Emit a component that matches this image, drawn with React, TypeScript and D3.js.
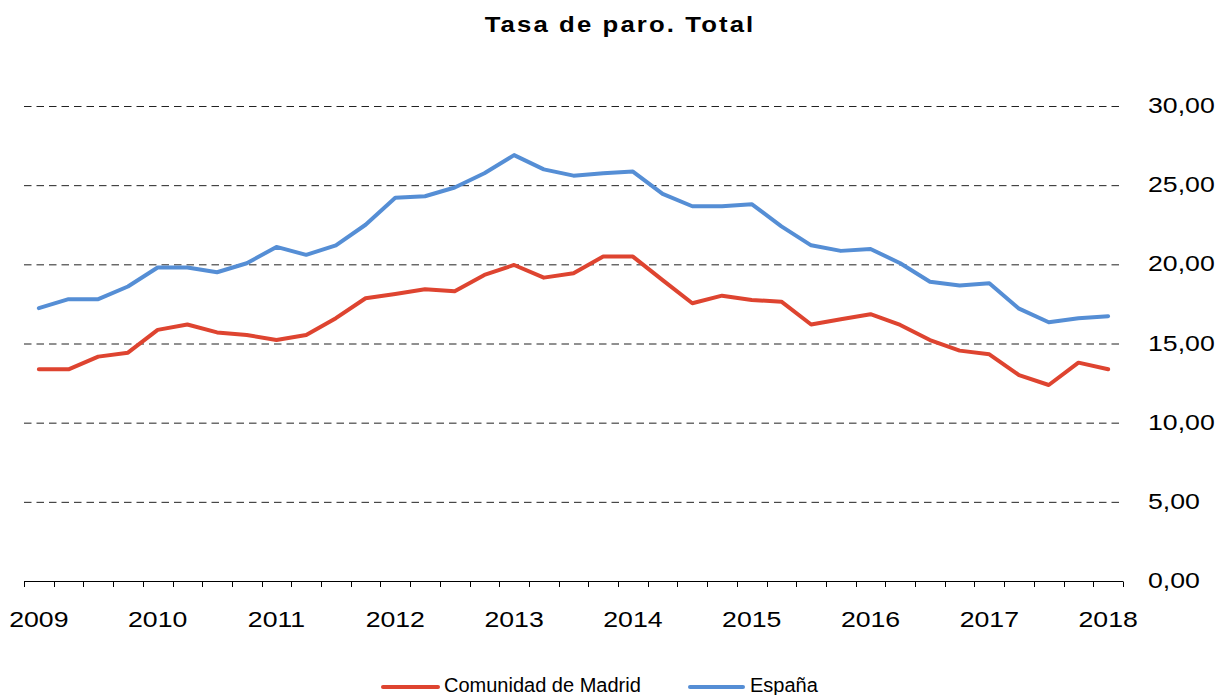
import React, { useEffect, useRef } from 'react'
import * as d3 from 'd3'

const quarters = [
  '2009T1', '2009T2', '2009T3', '2009T4',
  '2010T1', '2010T2', '2010T3', '2010T4',
  '2011T1', '2011T2', '2011T3', '2011T4',
  '2012T1', '2012T2', '2012T3', '2012T4',
  '2013T1', '2013T2', '2013T3', '2013T4',
  '2014T1', '2014T2', '2014T3', '2014T4',
  '2015T1', '2015T2', '2015T3', '2015T4',
  '2016T1', '2016T2', '2016T3', '2016T4',
  '2017T1', '2017T2', '2017T3', '2017T4',
  '2018T1'
]

const madrid = [
  13.37, 13.37, 14.17, 14.42,
  15.86, 16.2, 15.7, 15.54,
  15.22, 15.54, 16.6, 17.86,
  18.13, 18.43, 18.3, 19.33,
  19.96, 19.16, 19.44, 20.49,
  20.49, 19.0, 17.54, 18.02,
  17.75, 17.64, 16.2, 16.53,
  16.85, 16.17, 15.22, 14.55,
  14.32, 13.0, 12.38, 13.79,
  13.37
]

const espana = [
  17.23, 17.8, 17.8, 18.6,
  19.8, 19.8, 19.5, 20.07,
  21.1, 20.6, 21.2, 22.5,
  24.2, 24.3, 24.85, 25.75,
  26.9, 26.0, 25.6, 25.75,
  25.86, 24.45, 23.67, 23.67,
  23.8, 22.4, 21.2, 20.85,
  20.97, 20.07, 18.9, 18.66,
  18.8, 17.2, 16.34, 16.6,
  16.72
]

const yTicks = [0, 5, 10, 15, 20, 25, 30]
const yearLabels = ['2009', '2010', '2011', '2012', '2013', '2014', '2015', '2016', '2017', '2018']

const series = [
  { name: 'Comunidad de Madrid', values: madrid, colour: '#DE4430' },
  { name: 'España', values: espana, colour: '#558ED5' }
]

const W = 1225
const H = 695
const SX = 1.17 // the exported picture is stretched a bit horizontally

export default function App () {
  const ref = useRef<SVGSVGElement>(null)

  useEffect(() => {
    const svg = d3.select(ref.current)
    svg.selectAll('*').remove()

    const x = d3.scaleBand<string>().domain(quarters).range([24, 1123]).padding(0)
    const y = d3.scaleLinear().domain([0, 30]).range([581, 106])
    const cx = (q: string) => (x(q) as number) + x.bandwidth() / 2

    // title
    svg.append('text')
      .attr('transform', `translate(620, 32) scale(${SX},1)`)
      .attr('text-anchor', 'middle')
      .attr('font-family', 'Liberation Sans, Arial, sans-serif')
      .attr('font-weight', 'bold')
      .attr('font-size', 22)
      .attr('letter-spacing', 1.8)
      .attr('fill', '#000')
      .text('Tasa de paro. Total')

    // dashed gridlines + right labels
    const grid = svg.append('g')
    grid.selectAll('line')
      .data(yTicks.filter(t => t > 0))
      .enter().append('line')
        .attr('x1', 24)
        .attr('x2', 1123)
        .attr('y1', d => y(d) + 0.5)
        .attr('y2', d => y(d) + 0.5)
        .attr('stroke', '#222')
        .attr('stroke-width', 1)
        .attr('stroke-dasharray', '7.5,5')

    grid.selectAll('text')
      .data(yTicks)
      .enter().append('text')
        .attr('transform', d => `translate(1148, ${y(d) + 7}) scale(${SX},1)`)
        .attr('font-family', 'Liberation Sans, Arial, sans-serif')
        .attr('font-size', 22.8)
        .attr('fill', '#000')
        .text(d => d3.format('.2f')(d).replace('.', ','))

    // x axis
    const axis = svg.append('g')
    axis.append('line')
      .attr('x1', 24).attr('x2', 1123)
      .attr('y1', 581.5).attr('y2', 581.5)
      .attr('stroke', '#000')
    const bounds = quarters.map(q => x(q) as number).concat([1123])
    axis.selectAll('line.tick')
      .data(bounds)
      .enter().append('line')
        .attr('class', 'tick')
        .attr('x1', d => Math.round(d) + 0.5)
        .attr('x2', d => Math.round(d) + 0.5)
        .attr('y1', 581.5)
        .attr('y2', 587)
        .attr('stroke', '#000')
    axis.selectAll('text')
      .data(yearLabels)
      .enter().append('text')
        .attr('transform', d => `translate(${cx(d + 'T1')}, 627) scale(${SX},1)`)
        .attr('text-anchor', 'middle')
        .attr('font-family', 'Liberation Sans, Arial, sans-serif')
        .attr('font-size', 22.8)
        .attr('fill', '#000')
        .text(d => d)

    // lines
    const line = d3.line<number>()
      .x((d, i) => cx(quarters[i]))
      .y(d => y(d))
    svg.append('g').selectAll('path')
      .data(series)
      .enter().append('path')
        .attr('d', d => line(d.values))
        .attr('fill', 'none')
        .attr('stroke', d => d.colour)
        .attr('stroke-width', 4)
        .attr('stroke-linejoin', 'round')
        .attr('stroke-linecap', 'round')

    // legend
    const legendPos = [{ x1: 383, x2: 438, tx: 444 }, { x1: 690, x2: 743, tx: 750 }]
    const legend = svg.append('g')
    series.forEach((s, i) => {
      const p = legendPos[i]
      legend.append('line')
        .attr('x1', p.x1).attr('x2', p.x2)
        .attr('y1', 687).attr('y2', 687)
        .attr('stroke', s.colour)
        .attr('stroke-width', 4)
        .attr('stroke-linecap', 'round')
      legend.append('text')
        .attr('x', p.tx)
        .attr('y', 692)
        .attr('font-family', 'Liberation Sans, Arial, sans-serif')
        .attr('font-size', 20)
        .attr('fill', '#000')
        .text(s.name)
    })
  }, [])

  return (
    <svg
      ref={ref}
      width={W}
      height={H}
      style={{ position: 'absolute', left: 0, top: 0, background: '#fff' }}
    />
  )
}
